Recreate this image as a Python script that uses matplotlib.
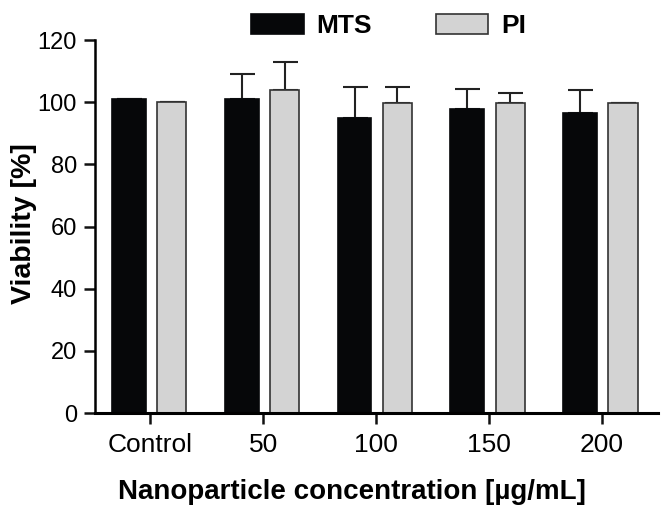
import matplotlib
matplotlib.use("Agg")

import numpy as np
import matplotlib.pyplot as plt

plt.rcParams["font.family"] = ["Liberation Sans", "DejaVu Sans"]

# Data
categories = ["Control", "50", "100", "150", "200"]
mts = [101.0, 101.0, 95.0, 97.7, 96.4]
mts_err = [0.0, 8.0, 9.8, 6.5, 7.5]
pi = [100.2, 103.8, 99.9, 99.8, 99.8]
pi_err = [0.0, 9.2, 4.9, 3.2, 0.0]

x = np.arange(len(categories))

fig = plt.figure(figsize=(6.7, 5.21), dpi=100)
ax = fig.add_axes([0.142, 0.207, 0.840, 0.716])

ax.bar(x - 0.19, mts, width=0.30, color="#060709", edgecolor="#060709",
       linewidth=1.2, label="MTS", zorder=2)
ax.bar(x + 0.19, pi, width=0.26, color="#d3d3d3", edgecolor="#333333",
       linewidth=1.2, label="PI", zorder=2)

ax.errorbar(x - 0.19, mts, yerr=[np.zeros(len(x)), mts_err], fmt="none",
            ecolor="#222222", elinewidth=1.5, capsize=9, capthick=1.5, zorder=1)
ax.errorbar(x + 0.19, pi, yerr=[np.zeros(len(x)), pi_err], fmt="none",
            ecolor="#222222", elinewidth=1.5, capsize=9, capthick=1.5, zorder=1)

ax.set_xlim(-0.49, 4.5)
ax.set_ylim(0, 120)
ax.set_yticks(np.arange(0, 121, 20))
ax.set_xticks(x)
ax.set_xticklabels(categories)

for s in ["top", "right"]:
    ax.spines[s].set_visible(False)
ax.spines["left"].set_linewidth(1.8)
ax.spines["bottom"].set_linewidth(2.2)
ax.tick_params(axis="both", width=1.8, length=8, color="#111111")
ax.tick_params(axis="y", labelsize=17, pad=5)
ax.tick_params(axis="x", labelsize=19, pad=6)

ax.set_xlabel("Nanoparticle concentration [µg/mL]", fontsize=20,
              fontweight="bold")
ax.xaxis.set_label_coords(0.456, -0.177)
ax.set_ylabel("Viability [%]", fontsize=20.5, fontweight="bold")
ax.yaxis.set_label_coords(-0.103, 0.508)

fig.legend(loc="center", bbox_to_anchor=(0.58, 0.95), ncol=2, frameon=False,
           prop={"weight": "bold", "size": 19}, handlelength=2.0,
           handleheight=0.75, handletextpad=0.5, columnspacing=2.4)

fig.savefig("out.png", dpi=100)
plt.close(fig)
